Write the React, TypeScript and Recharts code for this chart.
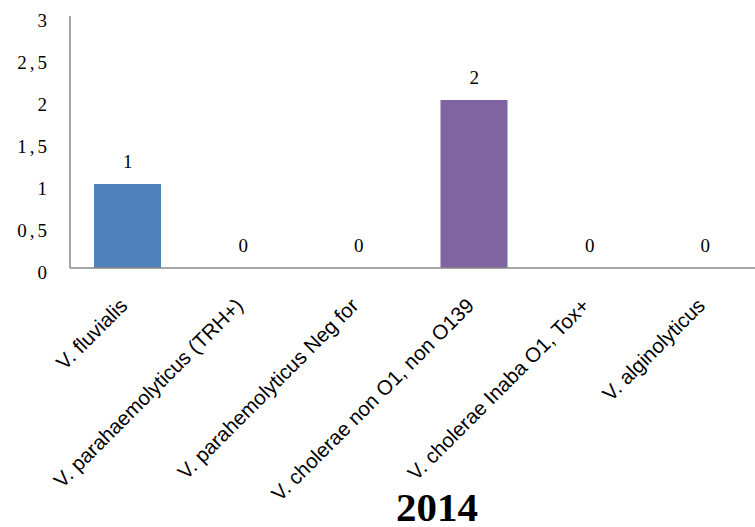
import { ComposedChart, Bar, Line, XAxis, YAxis, Cell } from 'recharts';

const categories = [
  'V. fluvialis',
  'V. parahaemolyticus (TRH+)',
  'V. parahemolyticus Neg for',
  'V. cholerae non O1, non O139',
  'V. cholerae Inaba O1, Tox+',
  'V. alginolyticus',
];
const counts = [1, 0, 0, 2, 0, 0];
const barColors = ['#4F81BD', '#C0504D', '#9BBB59', '#8064A2', '#4BACC6', '#F79646'];
const yTicks = [0, 0.5, 1, 1.5, 2, 2.5, 3];
const year = '2014';

const data = categories.map((name, i) => ({ name, count: counts[i] }));

const serif = '"Liberation Serif", "Times New Roman", serif';
const sans = '"Liberation Sans", Arial, sans-serif';

function CategoryTick(props: any) {
  const { x, y, payload } = props;
  return (
    <g transform={`translate(${x + 1},${y + 31}) rotate(-45)`}>
      <text x={0} y={0} textAnchor="end" fontFamily={sans} fontSize={20.5} fill="#000">
        {payload.value}
      </text>
    </g>
  );
}

// value labels drawn from an invisible line so zero bars still get their "0"
function ValueLabel(props: any) {
  const { x, y, value } = props;
  return (
    <text x={x} y={y - 16} textAnchor="middle" fontFamily={serif} fontSize={19} fill="#000">
      {value}
    </text>
  );
}

export default function App() {
  return (
    <div
      style={{
        position: 'absolute',
        left: 0,
        top: 0,
        width: 755,
        height: 527,
        overflow: 'hidden',
        background: '#fff',
      }}
    >
      <ComposedChart
        width={763}
        height={527}
        data={data}
        margin={{ top: 16, right: 0, bottom: 0, left: 0 }}
      >
        <XAxis
          dataKey="name"
          interval={0}
          height={259}
          tickLine={false}
          axisLine={{ stroke: '#868686', strokeWidth: 1.5 }}
          tick={<CategoryTick />}
        />
        <YAxis
          width={70}
          domain={[0, 3]}
          ticks={yTicks}
          tickLine={false}
          tickMargin={14}
          axisLine={{ stroke: '#868686', strokeWidth: 1.5 }}
          tickFormatter={(v: number) => String(v).replace('.', ',')}
          tick={{ fontFamily: serif, fontSize: 19, fill: '#000', dy: 4, letterSpacing: 3 }}
        />
        <Bar dataKey="count" barSize={67} isAnimationActive={false}>
          {data.map((d, i) => (
            <Cell key={d.name} fill={barColors[i]} />
          ))}
        </Bar>
        <Line
          dataKey="count"
          stroke="none"
          dot={false}
          activeDot={false}
          label={<ValueLabel />}
          isAnimationActive={false}
        />
      </ComposedChart>
      <div
        style={{
          position: 'absolute',
          left: 337,
          top: 489,
          width: 200,
          textAlign: 'center',
          fontFamily: serif,
          fontSize: 41,
          lineHeight: '36px',
          fontWeight: 'bold',
        }}
      >
        {year}
      </div>
    </div>
  );
}
